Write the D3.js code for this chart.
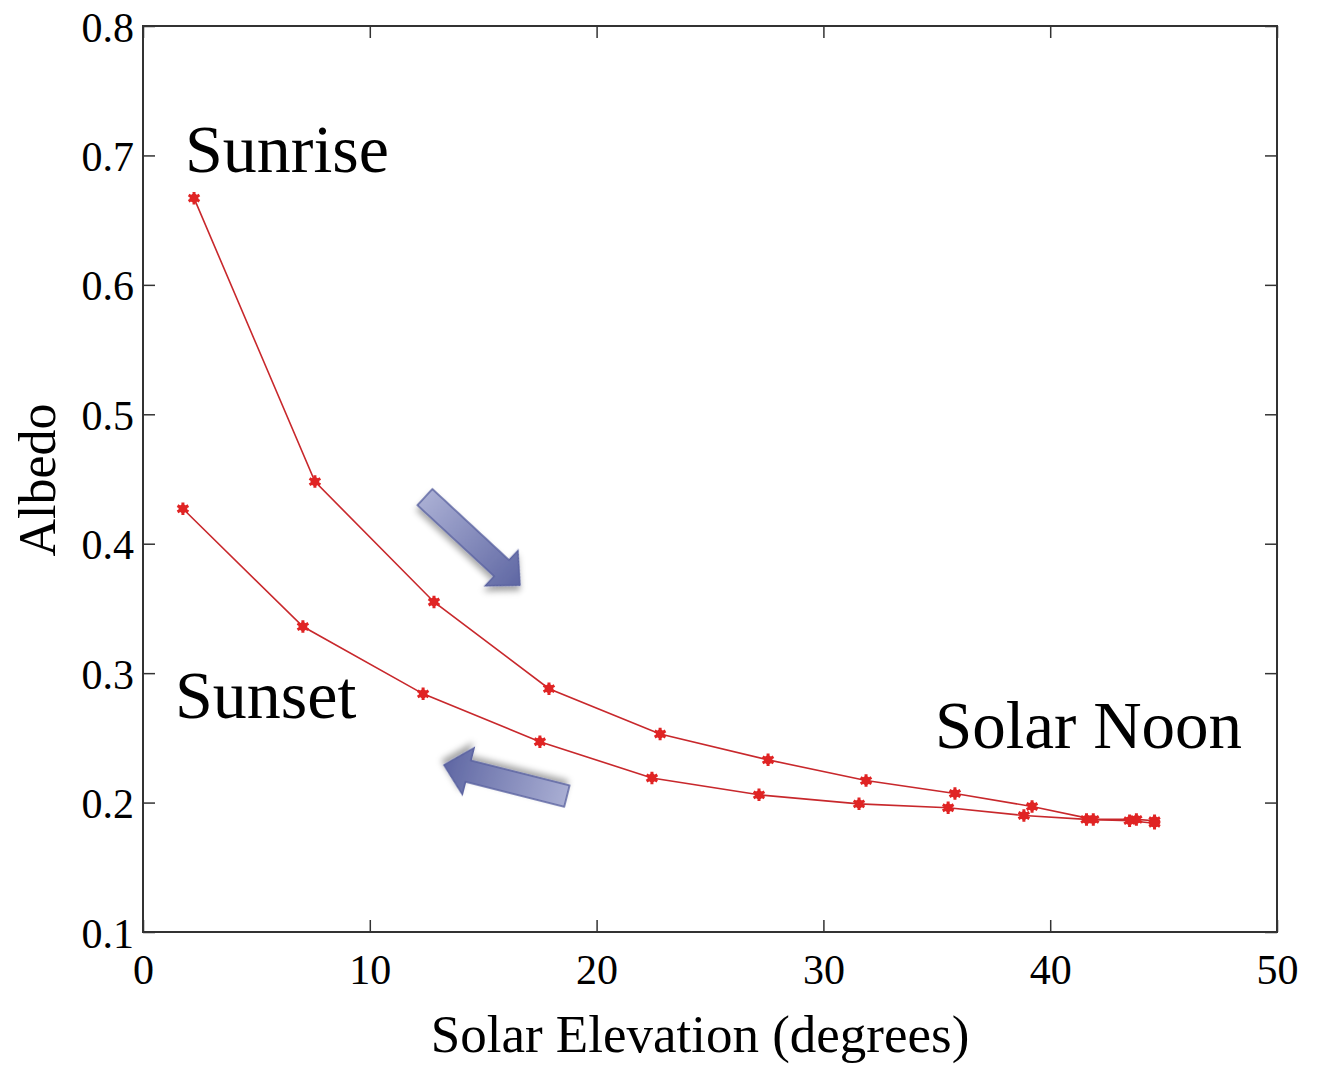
<!DOCTYPE html>
<html>
<head>
<meta charset="utf-8">
<script src="https://cdn.jsdelivr.net/npm/d3@7"></script>
<style>
  html, body { margin: 0; padding: 0; background: #fff; }
  svg { display: block; }
  text { font-family: "Liberation Serif", "Times New Roman", serif; fill: #000; }
</style>
</head>
<body>
<svg id="chart" width="1317" height="1065"></svg>
<script>
// ---- data ----
const sunriseElevation = [2.25, 7.58, 12.83, 17.9, 22.8, 27.56, 31.88, 35.8, 39.2, 41.9, 43.8, 44.6];
const sunriseAlbedo    = [0.667, 0.448, 0.355, 0.288, 0.253, 0.233, 0.217, 0.207, 0.197, 0.187, 0.187, 0.186];
const sunsetElevation  = [1.76, 7.05, 12.35, 17.5, 22.44, 27.16, 31.57, 35.5, 38.84, 41.6, 43.5, 44.6];
const sunsetAlbedo     = [0.427, 0.336, 0.284, 0.247, 0.219, 0.206, 0.199, 0.196, 0.190, 0.187, 0.186, 0.184];
const xTicks = [0, 10, 20, 30, 40, 50];
const yTicks = [0.1, 0.2, 0.3, 0.4, 0.5, 0.6, 0.7, 0.8];
const xTitle = "Solar Elevation (degrees)";
const yTitle = "Albedo";

// ---- layout ----
const padL = 143, padR = 1277, padT = 26, padB = 932;
const svg = d3.select("#chart");
const x = d3.scaleLinear().domain([0, 50]).range([padL, padR]);
const y = d3.scaleLinear().domain([0.1, 0.8]).range([padB, padT]);

// defs: gradient + shadow
const defs = svg.append("defs");
const f = defs.append("filter").attr("id", "shadow").attr("x", "-30%").attr("y", "-30%").attr("width", "160%").attr("height", "160%");
f.append("feDropShadow").attr("dx", 3).attr("dy", 4).attr("stdDeviation", 3)
  .attr("flood-color", "#000").attr("flood-opacity", 0.35);
const g = defs.append("linearGradient").attr("id", "arrowGrad")
  .attr("x1", "0").attr("y1", "0").attr("x2", "1").attr("y2", "0");
g.append("stop").attr("offset", "0%").attr("stop-color", "#a9aed3");
g.append("stop").attr("offset", "100%").attr("stop-color", "#5f67a3");

// frame + ticks
const axisColor = "#333";
const tickLen = 12;
svg.append("rect").attr("x", padL).attr("y", padT).attr("width", padR - padL).attr("height", padB - padT)
  .attr("fill", "none").attr("stroke", axisColor).attr("stroke-width", 2);

function styleAxis(sel) {
  sel.select(".domain").remove();
  sel.selectAll(".tick line").attr("stroke", axisColor).attr("stroke-width", 1.5);
  sel.selectAll(".tick text").attr("font-size", 42).attr("font-family", "Liberation Serif").attr("fill", "#111");
}

const gx = svg.append("g").attr("transform", `translate(0,${padB})`)
  .call(d3.axisBottom(x).tickValues(xTicks).tickSizeInner(-tickLen).tickSizeOuter(0).tickFormat(d3.format("d")));
styleAxis(gx);
gx.selectAll(".tick text").attr("y", 22).attr("dy", "0.71em");

const gxt = svg.append("g").attr("transform", `translate(0,${padT})`)
  .call(d3.axisTop(x).tickValues(xTicks).tickSizeInner(-tickLen).tickSizeOuter(0).tickFormat(""));
styleAxis(gxt);

const gy = svg.append("g").attr("transform", `translate(${padL},0)`)
  .call(d3.axisLeft(y).tickValues(yTicks).tickSizeInner(-tickLen).tickSizeOuter(0).tickFormat(d3.format(".1f")));
styleAxis(gy);
gy.selectAll(".tick text").attr("x", -9).attr("dy", "0.36em");

const gyr = svg.append("g").attr("transform", `translate(${padR},0)`)
  .call(d3.axisRight(y).tickValues(yTicks).tickSizeInner(-tickLen).tickSizeOuter(0).tickFormat(""));
styleAxis(gyr);

// titles
svg.append("text").attr("x", (padL + padR) / 2 - 10).attr("y", 1052).attr("text-anchor", "middle")
  .attr("font-size", 53).text(xTitle);
svg.append("text").attr("transform", `translate(55,480) rotate(-90)`).attr("text-anchor", "middle")
  .attr("font-size", 52).text(yTitle);

// series
const lineColor = "#c8282c", markColor = "#e02424";
const line = d3.line().x(d => x(d[0])).y(d => y(d[1]));
const sunrise = sunriseElevation.map((v, i) => [v, sunriseAlbedo[i]]);
const sunset = sunsetElevation.map((v, i) => [v, sunsetAlbedo[i]]);
[sunrise, sunset].forEach(s => {
  svg.append("path").datum(s).attr("d", line).attr("fill", "none").attr("stroke", lineColor).attr("stroke-width", 1.6);
});
const aster = d3.symbol().type(d3.symbolAsterisk).size(110);
const dot = d3.symbol().type(d3.symbolCircle).size(60);
[sunrise, sunset].forEach(s => {
  const gm = svg.append("g");
  gm.selectAll("path.a").data(s).join("path").attr("class", "a")
    .attr("transform", d => `translate(${x(d[0])},${y(d[1])})`)
    .attr("d", aster).attr("fill", "none").attr("stroke", markColor).attr("stroke-width", 3);
  gm.selectAll("path.c").data(s).join("path").attr("class", "c")
    .attr("transform", d => `translate(${x(d[0])},${y(d[1])})`)
    .attr("d", dot).attr("fill", markColor);
});

// arrows
function arrow(x0, y0, x1, y1) {
  const px0 = x(x0), py0 = y(y0), px1 = x(x1), py1 = y(y1);
  const len = Math.hypot(px1 - px0, py1 - py0);
  const ang = Math.atan2(py1 - py0, px1 - px0) * 180 / Math.PI;
  const sw = 11, hw = 24, hl = 25;
  const pts = [[0, -sw], [len - hl, -sw], [len - hl, -hw], [len, 0], [len - hl, hw], [len - hl, sw], [0, sw]];
  svg.append("polygon")
    .attr("points", pts.map(p => p.join(",")).join(" "))
    .attr("transform", `translate(${px0},${py0}) rotate(${ang})`)
    .attr("fill", "url(#arrowGrad)").attr("stroke", "#5a62a0").attr("stroke-width", 1.5)
    .attr("filter", "url(#shadow)");
}
arrow(12.43, 0.436, 16.62, 0.368);
arrow(18.69, 0.205, 13.27, 0.229);

// annotations
svg.append("text").attr("x", x(1.85)).attr("y", y(0.687)).attr("font-size", 68).text("Sunrise");
svg.append("text").attr("x", x(1.41)).attr("y", y(0.2654)).attr("font-size", 68).text("Sunset");
svg.append("text").attr("x", x(34.92)).attr("y", y(0.2422)).attr("font-size", 67).text("Solar Noon");
</script>
</body>
</html>
